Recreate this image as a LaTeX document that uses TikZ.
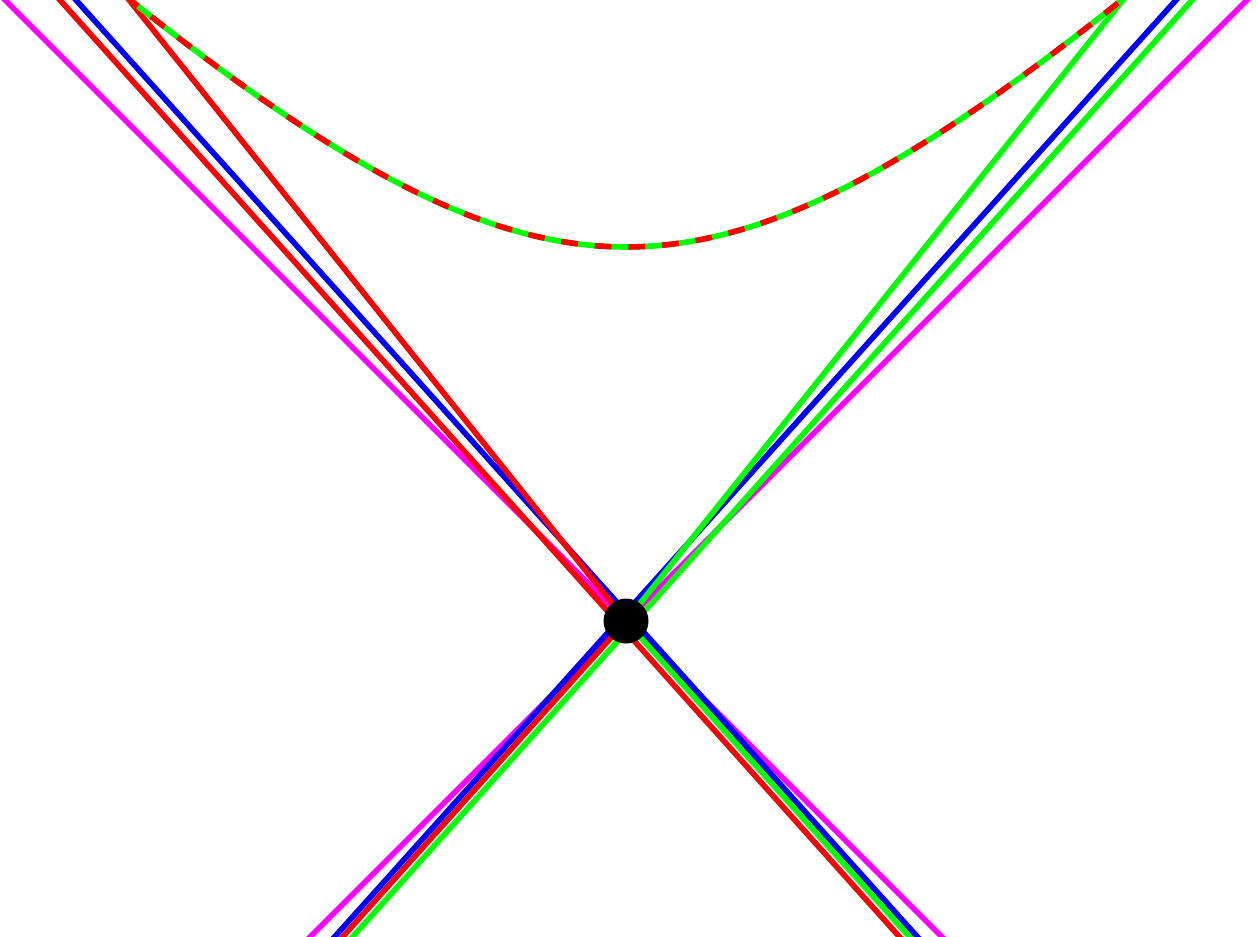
\documentclass[tikz,border=0pt]{standalone}
\definecolor{mag}{RGB}{255,0,255}
\definecolor{grn}{RGB}{0,255,0}
\definecolor{rd}{RGB}{255,0,0}
\definecolor{bl}{RGB}{0,0,255}
\begin{document}
\begin{tikzpicture}[x=0.02cm,y=-0.02cm,
  wl/.style={line width=3.2pt},
  hyp/.style={line width=3.2pt},
  hypdash/.style={line width=3.2pt, dash pattern=on 9.6pt off 9.6pt, dash phase=16pt}]
\useasboundingbox (0,0) rectangle (1256,936);
\clip (0,0) rectangle (1256,936);
% event
\coordinate (O) at (626,621);
% light cone (magenta)
\coordinate (m1a) at (-15,-20); \coordinate (m1b) at (957,952);
\coordinate (m2a) at (1267,-20); \coordinate (m2b) at (295,952);
% blue lines
\coordinate (b1a) at (58,-20); \coordinate (b1b) at (931,952);
\coordinate (b2a) at (1194,-20); \coordinate (b2b) at (321,952);
% red and green lines
\coordinate (r1a) at (42,-20); \coordinate (r1b) at (913,952);
\coordinate (g1a) at (1210,-20); \coordinate (g1b) at (339,952);
% lower half-lines
\coordinate (r2) at (329,952);
\coordinate (g2) at (923,952);
% worldlines ending on the hyperbola
\coordinate (rw) at (127.3,-2.3);
\coordinate (gw) at (1124.7,-2.3);
\draw[mag, wl] (m1a) -- (m1b);
\draw[mag, wl] (m2a) -- (m2b);
\draw[grn, wl] (O) -- (g2);
\draw[rd, wl] (r1a) -- (r1b);
\draw[grn, wl] (g1a) -- (g1b);
\draw[rd, wl] (O) -- (r2);
\draw[bl, wl] (b1a) -- (b1b);
\draw[bl, wl] (b2a) -- (b2b);
\draw[rd, wl] (O) -- (rw);
\draw[grn, wl] (O) -- (gw);
% calibration hyperbola
\draw[grn, hyp] plot[domain=-1.3:1.3, samples=120, smooth, variable=\s] ({626+374*sinh(\s)},{621-374*cosh(\s)});
\draw[rd, hypdash] plot[domain=-1.3:1.3, samples=120, smooth, variable=\s] ({626+374*sinh(\s)},{621-374*cosh(\s)});
\node[circle, fill=black, inner sep=0pt, minimum size=0.9cm] (ev) at (O) {};
\end{tikzpicture}
\end{document}
